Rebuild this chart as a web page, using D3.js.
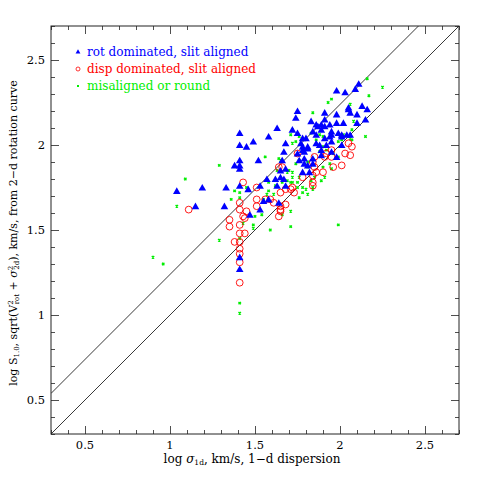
<!DOCTYPE html>
<html><head><meta charset="utf-8">
<script src="https://cdn.jsdelivr.net/npm/d3@7"></script>
<style>body{margin:0;background:#fff} text{font-family:"DejaVu Serif","Liberation Serif",serif}</style>
</head><body><svg id="c" width="485" height="485"></svg>
<script>
// ---- data: [log sigma_1d, log S_1.0]
const rotDominated = [
[1.04,1.73],[1.19,1.75],[1.33,1.75],[1.15,1.64],[1.32,1.64],
[1.41,2.07],[1.41,2.00],[1.41,1.91],[1.41,1.88],[1.41,1.86],[1.38,1.88],[1.41,1.76],[1.41,1.34],[1.41,1.27],
[1.45,1.99],[1.49,2.02],[1.52,1.91],[1.46,1.74],[1.53,1.76],
[1.58,2.05],[1.63,2.10],[1.57,1.80],[1.62,1.80],[1.65,1.81],[1.67,1.80],[1.55,1.67],[1.58,1.68],[1.64,1.66],
[1.47,1.59],[1.53,1.62],[1.63,1.76],[1.68,1.76],[1.65,1.85],[1.68,1.86],[1.67,1.96],[1.68,2.01],[1.66,1.91],
[1.75,2.20],[1.74,2.16],[1.72,2.09],[1.75,2.07],[1.83,2.14],[1.86,2.12],[1.84,2.08],[1.86,2.06],
[1.78,2.04],[1.80,2.04],[1.77,2.01],[1.78,1.99],[1.81,1.99],[1.78,1.97],[1.79,1.96],[1.81,1.98],
[1.76,1.91],[1.79,1.92],[1.84,1.92],[1.81,1.88],[1.84,1.89],[1.78,1.84],[1.82,1.84],[1.75,1.95],[1.79,1.89],[1.86,2.01],
[2.11,2.36],[2.09,2.33],[1.98,2.32],[2.03,2.31],[2.13,2.23],[2.16,2.21],[2.05,2.21],[2.06,2.19],[1.98,2.18],[2.10,2.18],
[1.91,2.19],[2.05,2.22],[1.91,2.15],[1.89,2.12],[1.91,2.11],[1.87,2.11],[1.94,2.12],[1.98,2.13],[2.02,2.13],[2.10,2.13],[2.15,2.15],
[1.89,2.09],[1.95,2.08],[1.99,2.07],[2.01,2.06],[1.95,2.06],[1.94,2.05],[2.01,2.05],[2.04,2.06],[2.06,2.06],[1.91,2.04],
[1.92,2.00],[1.95,2.02],[2.01,2.00],[1.89,1.97],[1.95,1.96],[1.98,1.93],[1.88,2.00],[1.89,1.94]
];
const dispDominated = [
[1.11,1.62],[1.41,1.66],[1.41,1.62],[1.43,1.58],[1.41,1.53],[1.41,1.48],[1.41,1.43],[1.38,1.43],[1.41,1.39],[1.41,1.36],
[1.41,1.31],[1.41,1.19],[1.35,1.56],[1.35,1.52],[1.44,1.48],[1.44,1.57],[1.43,1.78],[1.45,1.61],
[1.51,1.75],[1.51,1.68],[1.51,1.64],[1.56,1.68],[1.59,1.68],[1.61,1.66],[1.64,1.87],[1.66,1.87],
[1.65,1.64],[1.68,1.65],[1.65,1.62],[1.65,1.61],[1.64,1.58],[1.65,1.72],[1.68,1.74],[1.71,1.74],[1.73,1.72],[1.72,1.75],
[1.75,1.95],[1.78,1.81],[1.84,1.78],[1.84,1.76],[1.84,1.82],[1.86,1.84],[1.90,1.84],[1.85,1.87],[1.84,1.90],[1.85,1.93],
[1.91,1.93],[1.92,1.95],[1.95,1.97],[1.95,1.93],[2.01,1.88],[1.96,1.87],[2.03,1.95],[2.06,1.94],[2.05,2.01],[2.07,1.99]
];
const misaligned = [
[1.29,1.88],[1.09,1.80],[1.04,1.64],[1.36,1.68],[1.38,1.73],[0.90,1.34],[0.96,1.30],[1.29,1.44],[1.41,1.07],[1.41,1.01],
[1.49,1.53],[1.49,1.51],[1.59,1.50],[1.71,1.52],[1.43,1.54],[1.41,1.45],[1.84,2.19],[1.56,1.93],[1.64,1.92],[1.74,1.89],
[1.76,1.91],[1.81,1.90],[1.69,1.84],[1.69,1.79],[1.71,1.78],[1.72,1.78],[1.75,1.78],[1.75,1.75],[1.78,1.75],[1.81,1.71],
[1.58,1.73],[1.57,1.71],[1.55,1.68],[1.45,1.75],[1.41,1.72],[1.41,1.69],[1.66,1.59],[1.50,1.58],[1.71,1.61],[1.72,2.09],
[1.71,2.06],[1.76,2.05],[1.65,1.91],[1.81,1.87],[1.63,1.85],[1.70,1.85],[1.72,1.81],[1.76,1.81],[1.83,1.79],[1.85,1.81],
[1.66,1.78],[1.62,1.76],[2.25,2.34],[2.17,2.29],[2.06,2.24],[1.95,2.27],[1.93,2.25],[2.08,2.14],[2.02,2.06],[2.07,2.09],
[2.15,2.05],[1.99,2.02],[2.01,2.03],[1.88,2.06],[1.83,2.07],[1.86,2.03],[1.90,1.99],[1.92,1.97],[1.88,1.96],[1.96,1.95],
[2.07,2.03],[2.16,2.39],[2.15,2.15],[2.06,2.04],[1.90,2.05],[1.99,1.93],[1.95,1.86],[1.91,1.81],[1.89,1.79],[1.90,1.87],
[1.84,1.74],[1.99,1.53],[1.76,1.69],[1.72,1.84],[1.94,1.89],[1.54,1.59],[1.58,1.78],[1.61,1.71],[1.78,1.72],[1.80,1.74],
[1.84,1.75],[1.72,2.01],[1.74,2.02]
];
const xTickLabels = ["0.5","1","1.5","2","2.5"];
const yTickLabels = ["0.5","1","1.5","2","2.5"];
const lineOffsets = [0, 0.2386];   // y = x and y = x + log10(sqrt 3)
const legendItems = [
  {label:"rot dominated, slit aligned", color:"#0000ff", kind:"tri"},
  {label:"disp dominated, slit aligned", color:"#ff0000", kind:"circ"},
  {label:"misaligned or round", color:"#00ee00", kind:"cross"}
];

// ---- drawing
const svg = d3.select("#c");
const L=51,R=459,T=26,B=434;
const x = d3.scaleLinear([0.3,2.7],[L,R]);
const y = d3.scaleLinear([0.3,2.7],[B,T]);

svg.append("clipPath").attr("id","clip").append("rect")
  .attr("x",L).attr("y",T).attr("width",R-L).attr("height",B-T);

const major = xTickLabels.map(Number);
const minor = d3.range(3,28).map(d=>d/10).filter(v=>!major.some(m=>Math.abs(m-v)<1e-6));

function axes(){
  const specs = [
    [d3.axisBottom, `translate(0,${B})`, x],
    [d3.axisTop, `translate(0,${T})`, x],
    [d3.axisLeft, `translate(${L},0)`, y],
    [d3.axisRight, `translate(${R},0)`, y]
  ];
  for (const [fn,tr,sc] of specs){
    const g1 = svg.append("g").attr("transform",tr)
      .call(fn(sc).tickValues(minor).tickSize(-4).tickSizeOuter(0).tickFormat(""));
    const g2 = svg.append("g").attr("transform",tr)
      .call(fn(sc).tickValues(major).tickSize(-8).tickSizeOuter(0).tickFormat(""));
    [g1,g2].forEach(g=>{g.select(".domain").remove(); g.selectAll("line").attr("stroke","#222").attr("stroke-width",0.8);});
  }
}
axes();
svg.append("rect").attr("x",L).attr("y",T).attr("width",R-L).attr("height",B-T)
  .attr("fill","none").attr("stroke","#222").attr("stroke-width",1);

// tick labels
svg.append("g").selectAll("text").data(xTickLabels).join("text")
  .attr("x",d=>x(+d)).attr("y",B+15).attr("text-anchor","middle")
  .attr("font-size",11.5).text(d=>d);
svg.append("g").selectAll("text").data(yTickLabels).join("text")
  .attr("x",L-6).attr("y",d=>y(+d)+4).attr("text-anchor","end")
  .attr("font-size",11.5).text(d=>d);

// lines
const lg = svg.append("g").attr("clip-path","url(#clip)");
lineOffsets.forEach(o=>{
  lg.append("line").attr("x1",x(0.3)).attr("y1",y(0.3+o)).attr("x2",x(2.7)).attr("y2",y(2.7+o))
    .attr("stroke","#222").attr("stroke-width",0.9);
});

// markers
const tri = d3.symbol().type(d3.symbolTriangle).size(25)();
const pg = svg.append("g").attr("clip-path","url(#clip)");
function cross(g,cx,cy,s,col,w){
  g.append("path").attr("d",`M${cx-s},${cy-s}L${cx+s},${cy+s}M${cx-s},${cy+s}L${cx+s},${cy-s}`)
   .attr("stroke",col).attr("stroke-width",w);
}
misaligned.forEach(([a,b])=>cross(pg,x(a),y(b),1.2,"#00ee00",1.4));
pg.selectAll("circle.d").data(dispDominated).join("circle").attr("class","d")
  .attr("cx",d=>x(d[0])).attr("cy",d=>y(d[1])).attr("r",3.4)
  .attr("fill","none").attr("stroke","#ff0000").attr("stroke-width",0.9);
pg.selectAll("path.t").data(rotDominated).join("path").attr("class","t")
  .attr("d",tri).attr("transform",d=>`translate(${x(d[0])},${y(d[1])+0.8})`).attr("fill","#0000ff");

// legend
const lgY=[52,69,86];
legendItems.forEach((it,i)=>{
  const cy=lgY[i];
  if(it.kind==="tri") svg.append("path").attr("d",d3.symbol().type(d3.symbolTriangle).size(10)()).attr("transform",`translate(78,${cy})`).attr("fill",it.color);
  if(it.kind==="circ") svg.append("circle").attr("cx",78).attr("cy",cy).attr("r",2).attr("fill","none").attr("stroke",it.color).attr("stroke-width",0.8);
  if(it.kind==="cross") cross(svg,78,cy,1,it.color,1);
  svg.append("text").attr("x",87).attr("y",cy+4).attr("font-size",12).attr("fill",it.color).text(it.label);
});

// x title
const xt = svg.append("text").attr("x",252).attr("y",463).attr("text-anchor","middle").attr("font-size",12);
xt.append("tspan").text("log ");
xt.append("tspan").attr("font-style","italic").text("σ");
xt.append("tspan").attr("font-size",7.5).attr("dy",2).text("1d");
xt.append("tspan").attr("dy",-2).text(", km/s, 1−d dispersion");

// y title
const yt = svg.append("text").attr("transform","translate(17,233) rotate(-90)").attr("text-anchor","middle").attr("font-size",11);
yt.append("tspan").text("log S");
yt.append("tspan").attr("font-size",7).attr("dy",2).text("1.0");
yt.append("tspan").attr("dy",-2).text(", sqrt(V");
yt.append("tspan").attr("font-size",7).attr("dy",-4).text("2");
yt.append("tspan").attr("font-size",7).attr("dy",6).attr("dx",-4).text("rot");
yt.append("tspan").attr("dy",-2).text(" + ");
yt.append("tspan").attr("font-style","italic").text("σ");
yt.append("tspan").attr("font-size",7).attr("dy",-4).text("2");
yt.append("tspan").attr("font-size",7).attr("dy",6).attr("dx",-4).text("2d");
yt.append("tspan").attr("dy",-2).text("), km/s, from 2−d rotation curve");
</script></body></html>
